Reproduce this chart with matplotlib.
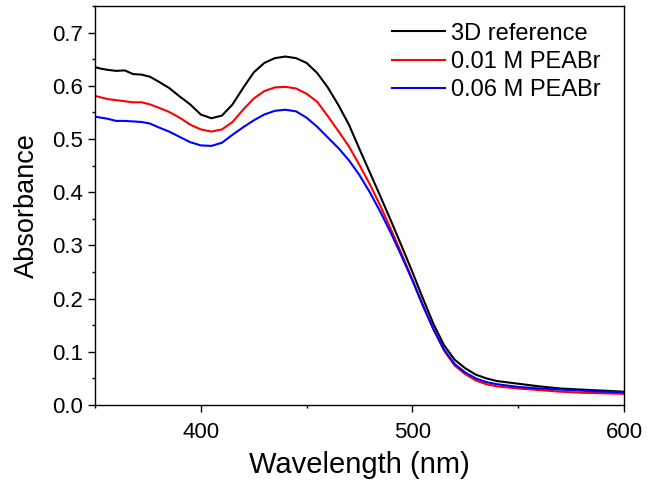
import matplotlib
matplotlib.use("Agg")
import matplotlib.pyplot as plt
from matplotlib.ticker import MultipleLocator, FormatStrFormatter

# values
wavelength = [350, 353, 356, 360, 364, 368, 372, 376, 380, 385, 390, 395, 400,
              405, 410, 415, 420, 425, 430, 435, 440, 445, 450, 455, 460, 465,
              470, 475, 480, 485, 490, 495, 500, 505, 510, 515, 520, 525, 530,
              535, 540, 550, 560, 570, 580, 590, 600]

ref_3d = [0.635, 0.632, 0.630, 0.628, 0.629, 0.622, 0.621, 0.617, 0.608, 0.596,
          0.580, 0.565, 0.546, 0.539, 0.544, 0.565, 0.596, 0.625, 0.643, 0.652,
          0.655, 0.652, 0.643, 0.624, 0.597, 0.564, 0.527, 0.481, 0.436, 0.391,
          0.345, 0.298, 0.250, 0.200, 0.152, 0.112, 0.085, 0.069, 0.057, 0.050,
          0.045, 0.040, 0.035, 0.031, 0.029, 0.027, 0.025]

peabr_001 = [0.581, 0.578, 0.575, 0.573, 0.571, 0.569, 0.569, 0.565, 0.559, 0.551,
             0.540, 0.527, 0.518, 0.514, 0.518, 0.532, 0.555, 0.576, 0.590, 0.597,
             0.598, 0.595, 0.585, 0.570, 0.543, 0.515, 0.486, 0.451, 0.414, 0.373,
             0.329, 0.283, 0.236, 0.188, 0.142, 0.102, 0.074, 0.058, 0.046, 0.039,
             0.035, 0.031, 0.028, 0.025, 0.023, 0.022, 0.021]

peabr_006 = [0.542, 0.540, 0.538, 0.534, 0.534, 0.533, 0.532, 0.529, 0.522, 0.514,
             0.504, 0.494, 0.488, 0.487, 0.493, 0.508, 0.522, 0.535, 0.546, 0.553,
             0.555, 0.552, 0.540, 0.523, 0.503, 0.483, 0.460, 0.432, 0.399, 0.362,
             0.322, 0.279, 0.234, 0.186, 0.142, 0.104, 0.077, 0.061, 0.050, 0.043,
             0.039, 0.034, 0.031, 0.029, 0.027, 0.025, 0.024]

labels = ["3D reference", "0.01 M PEABr", "0.06 M PEABr"]
colors = ["black", "#ff0000", "#0000ff"]


def main():
    plt.rcParams['font.family'] = ['Liberation Sans', 'DejaVu Sans']
    fig = plt.figure(figsize=(6.49, 4.88), dpi=100)
    ax = fig.add_axes([95 / 649, 83 / 488, 529 / 649, 399 / 488])

    for ys, lab, col in zip([ref_3d, peabr_001, peabr_006], labels, colors):
        ax.plot(wavelength, ys, color=col, lw=1.5, label=lab)

    ax.set_xlim(350, 600)
    ax.set_ylim(0, 0.75)
    ax.xaxis.set_major_locator(MultipleLocator(100))
    ax.xaxis.set_minor_locator(MultipleLocator(50))
    ax.yaxis.set_major_locator(MultipleLocator(0.1))
    ax.yaxis.set_minor_locator(MultipleLocator(0.05))
    ax.yaxis.set_major_formatter(FormatStrFormatter('%.1f'))
    ax.tick_params(which='major', direction='out', length=5, width=1, labelsize=16)
    ax.tick_params(which='minor', direction='out', length=2.5, width=1)
    ax.tick_params(axis='x', which='major', pad=7)
    for sp in ax.spines.values():
        sp.set_linewidth(1)

    ax.set_xlabel("Wavelength (nm)", fontsize=21, labelpad=6)
    ax.set_ylabel("Absorbance", fontsize=19.5, labelpad=9)
    ax.legend(loc='upper right', bbox_to_anchor=(0.973, 0.982), frameon=False,
              fontsize=17, handlelength=2.25, handletextpad=0.25,
              labelspacing=0.27, borderaxespad=0)

    fig.savefig("out.png", dpi=100)
    plt.close(fig)


if __name__ == "__main__":
    main()
